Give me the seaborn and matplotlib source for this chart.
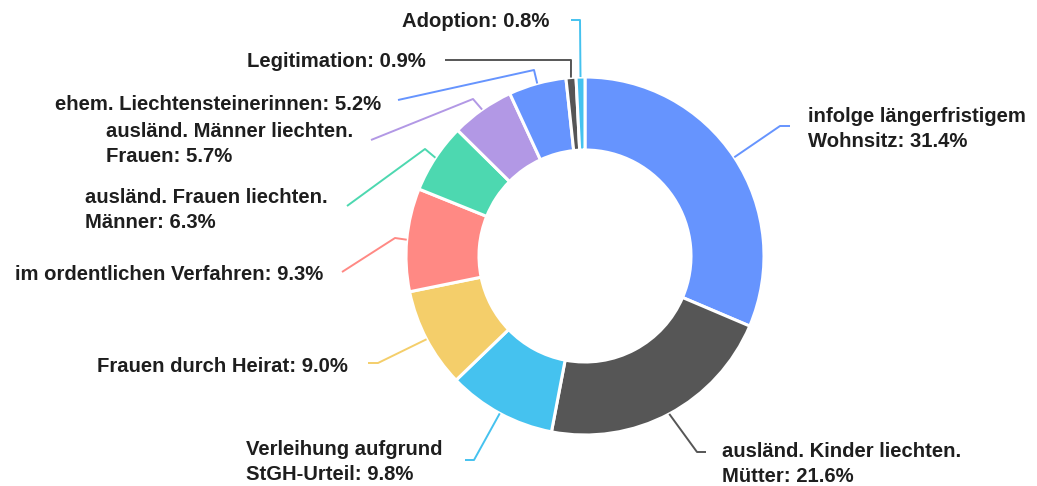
import matplotlib
matplotlib.use("Agg")
import matplotlib.pyplot as plt
import seaborn as sns
import numpy as np

# ---- data ----
labels = [
    "infolge längerfristigem\nWohnsitz",
    "ausländ. Kinder liechten.\nMütter",
    "Verleihung aufgrund\nStGH-Urteil",
    "Frauen durch Heirat",
    "im ordentlichen Verfahren",
    "ausländ. Frauen liechten.\nMänner",
    "ausländ. Männer liechten.\nFrauen",
    "ehem. Liechtensteinerinnen",
    "Legitimation",
    "Adoption",
]
values = [31.4, 21.6, 9.8, 9.0, 9.3, 6.3, 5.7, 5.2, 0.9, 0.8]
colors = ["#6694FE", "#565656", "#45C2EF", "#F4CE6A", "#FF8984",
          "#4DD8B0", "#B298E5", "#6694FE", "#565656", "#45C2EF"]

# ---- layout (pixel coordinates, y downward) ----
W, H = 1037, 486
CX, CY = 585, 256
R_OUT, R_IN = 179, 106
# elbow point, line end, text anchor (x, y, ha)
layout = [
    ((780, 126), (790, 126), (808, 129, "left")),
    ((697, 452), (706, 452), (722, 464, "left")),
    ((474, 460), (465, 460), (443, 462, "right")),
    ((378, 363), (368, 363), (348, 367, "right")),
    ((395, 238), (342, 272), (323, 274, "right")),
    ((425, 149), (347, 206), (328, 210, "right")),
    ((473, 99), (371, 140), (353, 144, "right")),
    ((534, 70), (398, 100), (381, 104, "right")),
    ((571, 60), (445, 60), (426, 62, "right")),
    ((580, 20), (571, 20), (549, 22, "right")),
]

sns.set_theme(style="white")
plt.rcParams["font.family"] = ["Liberation Sans", "DejaVu Sans"]

fig = plt.figure(figsize=(W / 100, H / 100), dpi=100)
ax = fig.add_axes([0, 0, 1, 1])

def fy(y):
    return H - y

wedges, _ = ax.pie(values, colors=colors, startangle=90, counterclock=False,
                   radius=R_OUT, center=(CX, fy(CY)),
                   wedgeprops=dict(width=R_OUT - R_IN, edgecolor="white", linewidth=2.2))

total = sum(values)
cum = np.cumsum([0] + values[:-1])
for i, (lab, v) in enumerate(zip(labels, values)):
    mid = np.deg2rad(90 - (cum[i] + v / 2) / total * 360)
    sx = CX + R_OUT * np.cos(mid)
    sy = CY - R_OUT * np.sin(mid)
    (ex, ey), (lx, ly), (tx, ty, ha) = layout[i]
    ax.plot([sx, ex, lx], [fy(sy), fy(ey), fy(ly)], color=colors[i], lw=1.4,
            solid_capstyle="butt", zorder=1)
    ax.text(tx, fy(ty), f"{lab}: {v:.1f}%", ha=ha, va="center", multialignment="left",
            fontsize=14.6, fontweight="bold", color="#1e1e1e", linespacing=1.42)

ax.set_xlim(0, W)
ax.set_ylim(0, H)
ax.set_aspect("auto")
ax.axis("off")
fig.savefig("out.png", dpi=100, facecolor="white")
